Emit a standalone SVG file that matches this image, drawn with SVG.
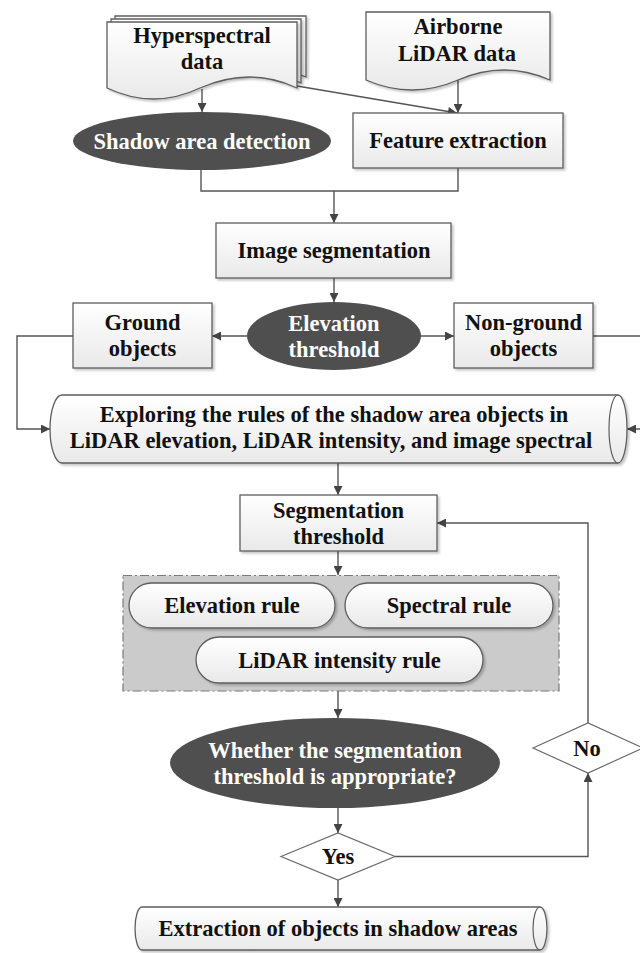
<svg xmlns="http://www.w3.org/2000/svg" width="640" height="953" viewBox="0 0 640 953">
<defs>
<style>
.t{font-family:"Liberation Serif","Times New Roman",serif;font-weight:bold;font-size:22.5px;text-anchor:middle;fill:#111}
.w{fill:#fff}
.box{fill:url(#g);stroke:#5e5e5e;stroke-width:1.3;filter:url(#sh)}
.dark{fill:#4f4f4f;stroke:none}
.dia{fill:#fff;stroke:#6a6a6a;stroke-width:1.2}
.ln{fill:none;stroke:#555;stroke-width:1.4}
.arr{marker-end:url(#ah)}
</style>
<linearGradient id="g" x1="0" y1="0" x2="0" y2="1">
<stop offset="0" stop-color="#ffffff"/>
<stop offset="1" stop-color="#e9e9e9"/>
</linearGradient>
<filter id="sh" x="-5%" y="-5%" width="115%" height="125%">
<feDropShadow dx="2" dy="2" stdDeviation="1.2" flood-color="#000" flood-opacity="0.22"/>
</filter>
<marker id="ah" viewBox="0 0 10 10" refX="10" refY="5" markerWidth="10" markerHeight="9" markerUnits="userSpaceOnUse" orient="auto">
<path d="M0,0 L10,5 L0,10 Z" fill="#444"/>
</marker>
</defs>
<rect width="640" height="953" fill="#fff"/>

<g id="connectors">
<path class="ln arr" d="M202,89 V112"/>
<path class="ln arr" d="M297,86 L457,113"/>
<path class="ln arr" d="M458,80 V113"/>
<path class="ln" d="M201,170 V191 H458 V168"/>
<path class="ln arr" d="M334,191 V223"/>
<path class="ln arr" d="M334,278 V302"/>
<path class="ln arr" d="M247,336 H212"/>
<path class="ln arr" d="M420,336 H454"/>
<path class="ln arr" d="M73,336 H17 V429 H50"/>
<path class="ln arr" d="M593,336 H642 V429 H627"/>
<path class="ln arr" d="M338,463 V495"/>
<path class="ln arr" d="M338,551 V575"/>
<path class="ln arr" d="M338,691 V718"/>
<path class="ln arr" d="M338,808 V833"/>
<path class="ln arr" d="M338,880 V907"/>
<path class="ln arr" d="M395,856.5 H588 V773"/>
<path class="ln arr" d="M588,723 V523 H437"/>
</g>

<g id="hyperspectral">
<path class="box" d="M115,16 H306 V77 Q270,62 240,70 L115,70 Z"/>
<path class="box" d="M111,19 H301 V83 Q270,68 240,76 L111,76 Z"/>
<path class="box" d="M107,22 H297 V88 Q250.5,66 200,88 Q153.5,110 107,88 Z"/>
<text class="t" x="202" y="43">Hyperspectral</text>
<text class="t" x="202" y="69">data</text>
</g>

<g id="lidar">
<path class="box" d="M366,12 H550 V80 Q504,60 458,80 Q412,100 366,80 Z"/>
<text class="t" x="458" y="34">Airborne</text>
<text class="t" x="457" y="61">LiDAR data</text>
</g>

<g id="shadow-detection">
<ellipse class="dark" cx="202" cy="141" rx="129" ry="29"/>
<text class="t w" x="202" y="148.5">Shadow area detection</text>
</g>

<g id="feature-extraction">
<rect class="box" x="353" y="113" width="210" height="55"/>
<text class="t" x="458" y="148">Feature extraction</text>
</g>

<g id="image-segmentation">
<rect class="box" x="216" y="223" width="235" height="55"/>
<text class="t" x="334" y="258">Image segmentation</text>
</g>

<g id="elevation-threshold">
<ellipse class="dark" cx="334" cy="336" rx="87" ry="34"/>
<text class="t w" x="334" y="330.5">Elevation</text>
<text class="t w" x="334" y="356.5">threshold</text>
</g>

<g id="ground-objects">
<rect class="box" x="73" y="303" width="139" height="65"/>
<text class="t" x="142.5" y="330">Ground</text>
<text class="t" x="142.5" y="356">objects</text>
</g>

<g id="non-ground-objects">
<rect class="box" x="454" y="303" width="139" height="65"/>
<text class="t" x="523.5" y="330">Non-ground</text>
<text class="t" x="523.5" y="356">objects</text>
</g>

<g id="exploring-rules">
<path class="box" d="M62,395 H618 A9,34 0 0 1 618,463 H62 A12,34 0 0 1 62,395 Z"/>
<path fill="none" stroke="#5e5e5e" stroke-width="1.2" d="M618,395 A9,34 0 0 0 618,463"/>
<text class="t" x="334" y="422">Exploring the rules of the shadow area objects in</text>
<text class="t" x="331" y="448">LiDAR elevation, LiDAR intensity, and image spectral</text>
</g>

<g id="segmentation-threshold">
<rect class="box" x="240" y="495" width="197" height="56"/>
<text class="t" x="338.5" y="517.5">Segmentation</text>
<text class="t" x="338.5" y="543.5">threshold</text>
</g>

<g id="rules-group">
<rect x="123" y="575.5" width="436" height="115.5" fill="#cbcbcb" stroke="#7a7a7a" stroke-width="1.2" stroke-dasharray="9,3,2,3"/>
</g>

<g id="elevation-rule">
<rect class="box" x="129" y="583" width="206" height="45" rx="22.5"/>
<text class="t" x="232" y="613">Elevation rule</text>
</g>

<g id="spectral-rule">
<rect class="box" x="345" y="583" width="208" height="45" rx="22.5"/>
<text class="t" x="449" y="613">Spectral rule</text>
</g>

<g id="lidar-intensity-rule">
<rect class="box" x="196" y="637" width="287" height="46" rx="23"/>
<text class="t" x="339.5" y="667.5">LiDAR intensity rule</text>
</g>

<g id="whether-appropriate">
<ellipse class="dark" cx="335" cy="763" rx="165" ry="45"/>
<text class="t w" x="335" y="757.5">Whether the segmentation</text>
<text class="t w" x="335" y="783.5">threshold is appropriate?</text>
</g>

<g id="yes">
<polygon class="dia" points="281,856.5 338,833 395,856.5 338,880"/>
<text class="t" x="338" y="864">Yes</text>
</g>

<g id="no">
<polygon class="dia" points="533,748 588,723 643,748 588,773"/>
<text class="t" x="587" y="755.5">No</text>
</g>

<g id="extraction">
<path class="box" d="M142,907 H540 A7,21.5 0 0 1 540,950 H142 A7,21.5 0 0 1 142,907 Z"/>
<path fill="none" stroke="#5e5e5e" stroke-width="1.2" d="M540,907 A7,21.5 0 0 0 540,950"/>
<text class="t" x="338" y="936">Extraction of objects in shadow areas</text>
</g>
</svg>
